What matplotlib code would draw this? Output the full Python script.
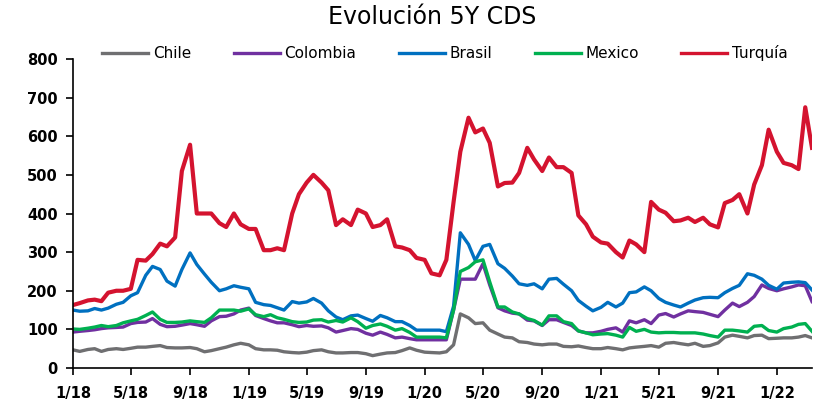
import numpy as np
import pandas as pd
import matplotlib
matplotlib.use('Agg')
import matplotlib.pyplot as plt

# fechas cada medio mes (1 y 15)
fechas = pd.date_range('2018-01-01', '2022-03-15', freq='SMS')

chile = [47, 43, 48, 50, 43, 48, 50, 48, 51, 54, 54, 56,
         58, 53, 52, 52, 53, 50, 42, 45, 50, 54, 60, 64,
         60, 50, 47, 47, 46, 42, 40, 39, 41, 45, 47, 42,
         39, 39, 40, 40, 37, 32, 36, 39, 40, 45, 52, 46,
         41, 40, 39, 42, 60, 140, 130, 115, 117, 98, 88, 80,
         78, 68, 66, 62, 60, 62, 62, 56, 55, 57, 53, 50,
         50, 53, 50, 47, 52, 54, 56, 58, 54, 64, 66, 63,
         60, 64, 56, 58, 65, 80, 85, 82, 78, 84, 85, 76,
         77, 78, 78, 80, 84, 78]

colombia = [93, 95, 97, 99, 102, 104, 105, 106, 115, 118, 119, 128,
            113, 107, 108, 111, 115, 112, 108, 122, 133, 134, 140, 150,
            155, 136, 128, 122, 117, 117, 112, 107, 110, 108, 109, 104,
            93, 97, 102, 100, 90, 85, 93, 87, 78, 80, 76, 73,
            73, 73, 73, 73, 150, 230, 230, 230, 270, 215, 156, 148,
            142, 140, 124, 122, 110, 125, 125, 118, 110, 96, 91, 91,
            95, 100, 104, 93, 122, 117, 125, 115, 137, 141, 132, 140,
            148, 146, 144, 139, 133, 150, 168, 159, 170, 185, 215, 206,
            200, 205, 210, 215, 213, 172]

brasil = [150, 147, 148, 154, 150, 155, 165, 170, 187, 195, 240, 263,
          255, 225, 212, 255, 298, 268, 243, 222, 200, 205, 213, 209,
          205, 170, 164, 162, 156, 150, 172, 168, 171, 180, 168, 148,
          132, 125, 135, 137, 128, 121, 136, 130, 120, 120, 110, 98,
          98, 98, 98, 94, 160, 350, 320, 278, 315, 320, 270, 258,
          238, 218, 214, 218, 205, 230, 232, 217, 200, 175, 160, 148,
          157, 170, 158, 168, 195, 197, 210, 200, 180, 170, 163, 158,
          168, 176, 182, 183, 182, 195, 206, 214, 244, 240, 230, 214,
          204, 220, 222, 223, 221, 202]

mexico = [101, 100, 103, 106, 110, 107, 110, 117, 122, 126, 136, 145,
          126, 118, 118, 119, 122, 120, 118, 130, 150, 150, 150, 147,
          153, 138, 133, 138, 130, 126, 120, 118, 119, 124, 125, 119,
          123, 119, 130, 120, 103, 110, 114, 108, 98, 102, 92, 80,
          80, 80, 80, 78, 150, 250, 260, 275, 280, 223, 158, 158,
          145, 140, 128, 123, 111, 135, 135, 120, 115, 96, 91, 86,
          88, 89, 85, 80, 105, 95, 100, 93, 91, 92, 92, 91,
          91, 91, 88, 84, 80, 98, 98, 96, 93, 108, 110, 97,
          93, 102, 106, 113, 115, 95]

turquia = [163, 168, 175, 177, 173, 195, 200, 200, 205, 280, 278, 295,
           322, 315, 338, 510, 578, 400, 400, 400, 375, 365, 400, 372,
           360, 360, 305, 305, 310, 305, 400, 450, 480, 500, 480, 460,
           370, 385, 370, 410, 400, 365, 370, 385, 315, 312, 305, 285,
           280, 245, 240, 280, 430, 560, 648, 610, 620, 583, 470, 479,
           480, 505, 570, 540, 510, 545, 520, 520, 505, 395, 372, 340,
           325, 322, 300, 286, 330, 320, 300, 430, 410, 402, 380, 382,
           389, 378, 389, 372, 364, 427, 435, 450, 400, 475, 525, 617,
           560, 531, 525, 515, 675, 570]

nombres = ['Chile', 'Colombia', 'Brasil', 'Mexico', 'Turquía']
colores = ['#6f6f71', '#7030a0', '#0070c0', '#00b050', '#d4132f']
tick_fechas = pd.date_range('2018-01-01', '2022-01-01', freq='4MS')
tick_labels = ['1/18', '5/18', '9/18', '1/19', '5/19', '9/19', '1/20',
               '5/20', '9/20', '1/21', '5/21', '9/21', '1/22']

fig = plt.figure(figsize=(8.23, 4.04), dpi=100)
ax = fig.add_axes([73/823, 1-368/404, (812-73)/823, (368-59)/404])

datos = [chile, colombia, brasil, mexico, turquia]
for nom, vals, col in zip(nombres, datos, colores):
    lw = 3.0 if nom == 'Turquía' else 2.4
    ax.plot(fechas, vals, color=col, lw=lw, label=nom, solid_joinstyle='round')

ax.set_ylim(0, 800)
ax.set_yticks(range(0, 801, 100))
ax.set_xlim(fechas[0], fechas[-1])
ax.set_xticks(tick_fechas)
ax.set_xticklabels(tick_labels)
ax.spines['top'].set_visible(False)
ax.spines['right'].set_visible(False)
ax.spines['left'].set_linewidth(1.2)
ax.spines['bottom'].set_linewidth(1.2)
ax.tick_params(axis='both', direction='out', length=5, width=1.2, labelsize=10.5)
ax.tick_params(axis='x', pad=8)
ax.tick_params(axis='y', pad=6)
for lab in ax.get_xticklabels() + ax.get_yticklabels():
    lab.set_fontweight('bold')

fig.text(432/823, 1-17/404, 'Evolución 5Y CDS', ha='center', va='center',
         fontsize=17, family='DejaVu Sans')
leg = fig.legend(loc='center', bbox_to_anchor=(445/823, 1-53/404), ncol=5, frameon=False,
                 handlelength=3.0, handletextpad=0.3, columnspacing=2.8,
                 prop={'family': 'DejaVu Sans', 'size': 11})
for h in leg.get_lines():
    h.set_linewidth(2.4)

fig.savefig('out.png', dpi=100)
